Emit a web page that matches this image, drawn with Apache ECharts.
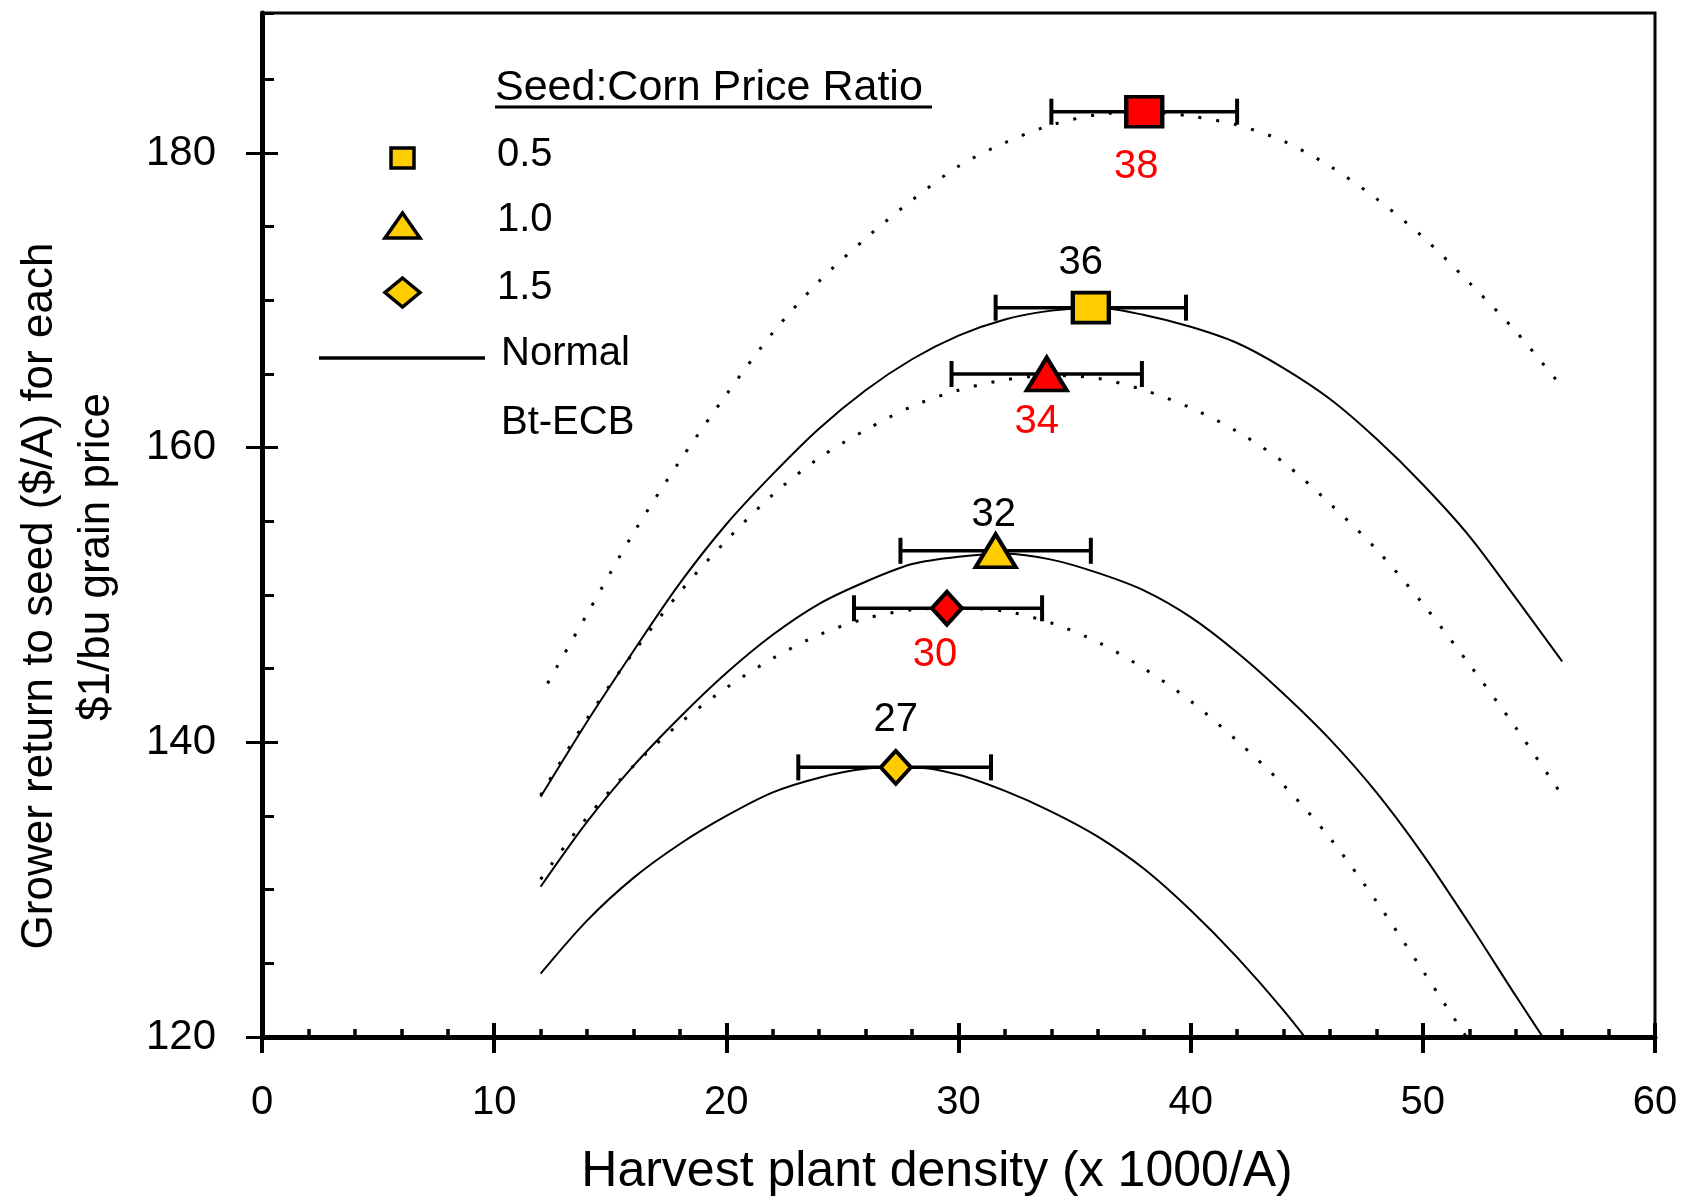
<!DOCTYPE html>
<html>
<head>
<meta charset="utf-8">
<script src="https://cdn.jsdelivr.net/npm/echarts@6/dist/echarts.min.js"></script>
<style>
  html, body { margin: 0; padding: 0; background: #fff; }
  #chart { width: 1691px; height: 1196px; }
</style>
</head>
<body>
<div id="chart"></div>
<script>
// response curves, [plant density (x1000/A), return ($/A)]
const normal05 = [[12,136.3],[14,141.4],[16,146.2],[18,150.8],[20,154.8],[22,158.2],[24,161.3],[26,163.9],[28,166.0],[30,167.6],[32,168.7],[34,169.3],[36,169.5],[38,169.0],[40,168.2],[42,167.1],[44,165.4],[46,163.3],[48,160.6],[50,157.5],[52,154.0],[54,149.8],[56,145.5]]
const normal10 = [[12,130.2],[14,134.6],[16,138.4],[18,141.7],[20,144.7],[22,147.3],[24,149.4],[26,150.9],[28,152.1],[30,152.6],[32,152.8],[34,152.4],[36,151.5],[38,150.3],[40,148.5],[42,146.1],[44,143.3],[46,140.2],[48,136.6],[50,132.4],[52,127.7],[54,122.8],[56,118.0]]
const normal15 = [[12,124.3],[14,127.9],[16,130.8],[18,133.1],[20,135.0],[22,136.6],[24,137.6],[26,138.2],[28,138.3],[30,137.8],[32,136.7],[34,135.3],[36,133.6],[38,131.4],[40,128.6],[42,125.4],[44,121.8],[46,117.8]]
const bt05 = [[12.3,144.0],[14,148.7],[16,154.2],[18,159.1],[20,163.6],[22,167.8],[24,171.3],[26,174.2],[28,176.8],[30,179.1],[32,180.7],[34,181.9],[36,182.6],[38,182.8],[40,182.5],[42,181.9],[44,180.8],[46,179.1],[48,176.9],[50,174.3],[52,171.2],[54,167.9],[56,164.1]]
const bt10 = [[12,136.4],[14,141.6],[16,146.1],[18,150.2],[20,153.7],[22,156.8],[24,159.3],[26,161.2],[28,162.8],[30,163.9],[32,164.6],[34,164.9],[36,164.7],[38,163.9],[40,162.7],[42,161.1],[44,159.0],[46,156.2],[48,153.1],[50,149.4],[52,145.3],[54,141.0],[56,136.4]]
const bt15 = [[12,130.7],[14,134.9],[16,138.4],[18,141.3],[20,143.7],[22,145.7],[24,147.3],[26,148.4],[28,149.0],[30,149.1],[32,148.9],[34,148.1],[36,146.8],[38,145.0],[40,142.8],[42,140.1],[44,137.1],[46,133.5],[48,129.2],[50,124.5],[52,119.7]]

// economic optimum for ratio 0.5, 1.0, 1.5
const ratios = ['0.5', '1.0', '1.5']
const normalOptX = [35.7, 31.6, 27.3]
const normalOptY = [169.5, 153.0, 138.3]
const normalLow = [31.6, 27.5, 23.1]
const normalHigh = [39.8, 35.7, 31.4]
const normalOptLabel = ['36', '32', '27']
const btOptX = [38.0, 33.8, 29.5]
const btOptY = [182.8, 165.0, 149.1]
const btLow = [34.0, 29.7, 25.5]
const btHigh = [42.0, 37.9, 33.6]
const btOptLabel = ['38', '34', '30']

const xTicks = [0, 10, 20, 30, 40, 50, 60]
const yTicks = [120, 140, 160, 180]

const YELLOW = '#FFCC00'
const RED = '#FF0000'
const FONT = '"Liberation Sans", Arial, sans-serif'
const NARROW = '"Liberation Sans Narrow", "Liberation Sans", sans-serif'

let myChart = echarts.init(document.getElementById('chart'))

function curve(pts, dotted) {
    return {
        type: 'line',
        data: pts,
        symbol: 'none',
        smooth: 0.3,
        silent: true,
        z: 2,
        lineStyle: {
            color: '#000',
            width: dotted ? 3 : 2,
            type: dotted ? [3, 15] : 'solid',
        },
    }
}

// horizontal error bars, drawn with the axes' own coord()
function errorBars(low, high, y) {
    return {
        type: 'custom',
        silent: true,
        z: 3,
        data: y.map((v, i) => [low[i], high[i], v]),
        encode: { x: [0, 1], y: 2 },
        renderItem(params, api) {
            let p1 = api.coord([api.value(0), api.value(2)])
            let p2 = api.coord([api.value(1), api.value(2)])
            let h = 13
            let s = { stroke: '#000', lineWidth: 4 }
            return {
                type: 'group',
                children: [
                    { type: 'line', shape: { x1: p1[0], y1: p1[1], x2: p2[0], y2: p2[1] }, style: { stroke: '#000', lineWidth: 3.5 } },
                    { type: 'line', shape: { x1: p1[0], y1: p1[1] - h, x2: p1[0], y2: p1[1] + h }, style: s },
                    { type: 'line', shape: { x1: p2[0], y1: p2[1] - h, x2: p2[0], y2: p2[1] + h }, style: s },
                ],
            }
        },
    }
}

const shapes = ['rect', 'triangle', 'diamond']
const shapeSize = [[36, 30], [40, 33], [30, 33]]
const normalLabelOffset = [[-10, -45], [-2, -36], [0, -47]]
const btLabelOffset = [[-8, 55], [-10, 48], [-12, 47]]

function markers(xs, ys, labels, color, offsets) {
    return ratios.map((r, i) => ({
        type: 'scatter',
        silent: true,
        z: 5,
        symbol: shapes[i],
        symbolSize: shapeSize[i],
        data: [[xs[i], ys[i]]],
        itemStyle: { color: color, borderColor: '#000', borderWidth: 4, opacity: 1 },
        label: {
            show: true,
            position: 'inside',
            offset: offsets[i],
            formatter: labels[i],
            color: color === RED ? RED : '#000',
            fontFamily: NARROW,
            fontSize: 40,
        },
    }))
}

let axisBase = { type: 'value', gridIndex: 0, splitLine: { show: false } }

let optionChart = {
    animation: false,
    backgroundColor: '#fff',
    grid: {
        left: 262, right: 36, top: 13, bottom: 159,
        show: true, borderColor: '#000', borderWidth: 3,
        containLabel: false,
    },
    xAxis: [
        {
            ...axisBase, min: 0, max: 60, interval: 10, position: 'bottom',
            axisLine: { show: true, lineStyle: { color: '#000', width: 5 } },
            axisTick: { show: true, inside: true, length: 14, lineStyle: { color: '#000', width: 4 } },
            minorTick: { show: true, splitNumber: 5, length: 8, lineStyle: { color: '#000', width: 3.5 } },
            axisLabel: {
                margin: 46, color: '#000', fontFamily: NARROW, fontSize: 40,
                formatter: (v) => xTicks.includes(v) ? String(v) : '',
            },
        },
        {
            ...axisBase, min: 0, max: 60, interval: 10, position: 'bottom', offset: 0,
            axisLine: { show: false },
            axisTick: { show: true, inside: false, length: 16, lineStyle: { color: '#000', width: 4 } },
            axisLabel: { show: false },
        },
    ],
    yAxis: [
        {
            ...axisBase, min: 120, max: 189.5, interval: 20, position: 'left', offset: 0,
            axisLine: { show: true, lineStyle: { color: '#000', width: 5 } },
            axisTick: { show: true, inside: true, length: 16, lineStyle: { color: '#000', width: 3 } },
            axisLabel: {
                margin: 46, color: '#000', fontFamily: FONT, fontSize: 42, showMaxLabel: false,
                formatter: (v) => yTicks.includes(v) ? String(v) : '',
            },
        },
        {
            ...axisBase, min: 120, max: 189.5, interval: 5, position: 'left', offset: 0,
            axisLine: { show: false },
            axisTick: { show: true, inside: true, length: 12, lineStyle: { color: '#000', width: 3 } },
            axisLabel: { show: false },
        },
        {
            ...axisBase, min: 120, max: 189.5, interval: 20, position: 'left', offset: 0,
            axisLine: { show: false },
            axisTick: { show: true, inside: false, length: 16, customValues: yTicks, lineStyle: { color: '#000', width: 3 } },
            axisLabel: { show: false },
        },
    ],
    series: [
        curve(normal05, false),
        curve(normal10, false),
        curve(normal15, false),
        curve(bt05, true),
        curve(bt10, true),
        curve(bt15, true),
        errorBars(normalLow, normalHigh, normalOptY),
        errorBars(btLow, btHigh, btOptY),
        ...markers(normalOptX, normalOptY, normalOptLabel, YELLOW, normalLabelOffset),
        ...markers(btOptX, btOptY, btOptLabel, RED, btLabelOffset),
    ],
    graphic: [
        // axis titles
        {
            type: 'text', x: 937, y: 1172,
            style: { text: 'Harvest plant density (x 1000/A)', fill: '#000', font: '50px ' + FONT, textAlign: 'center', textVerticalAlign: 'middle', align: 'center', verticalAlign: 'middle' },
        },
        {
            type: 'text', x: 40, y: 596, rotation: Math.PI / 2,
            style: { text: 'Grower return to seed ($/A) for each', fill: '#000', font: '44px ' + FONT, textAlign: 'center', textVerticalAlign: 'middle', align: 'center', verticalAlign: 'middle' },
        },
        {
            type: 'text', x: 97, y: 557, rotation: Math.PI / 2,
            style: { text: '$1/bu grain price', fill: '#000', font: '44px ' + FONT, textAlign: 'center', textVerticalAlign: 'middle', align: 'center', verticalAlign: 'middle' },
        },
        // legend
        {
            type: 'text', x: 495, y: 88,
            style: { text: 'Seed:Corn Price Ratio', fill: '#000', font: '43px ' + FONT, textAlign: 'left', textVerticalAlign: 'middle', align: 'left', verticalAlign: 'middle' },
        },
        { type: 'line', shape: { x1: 495, y1: 107, x2: 932, y2: 107 }, style: { stroke: '#000', lineWidth: 3 } },
        { type: 'rect', shape: { x: 391, y: 148, width: 23, height: 20 }, style: { fill: YELLOW, stroke: '#000', lineWidth: 3.5 } },
        { type: 'polygon', shape: { points: [[402.5, 213], [420, 238], [385, 238]] }, style: { fill: YELLOW, stroke: '#000', lineWidth: 3.5 } },
        { type: 'polygon', shape: { points: [[402.5, 278], [420, 292.5], [402.5, 307], [385, 292.5]] }, style: { fill: YELLOW, stroke: '#000', lineWidth: 3.5 } },
        { type: 'line', shape: { x1: 319, y1: 358, x2: 485, y2: 358 }, style: { stroke: '#000', lineWidth: 3.5 } },
        ...[['0.5', 155], ['1.0', 220], ['1.5', 288], ['Normal', 354], ['Bt-ECB', 423]].map(([t, y]) => ({
            type: 'text', x: t.length > 3 ? 501 : 497, y: y,
            style: { text: t, fill: '#000', font: '40px ' + FONT, textAlign: 'left', textVerticalAlign: 'middle', align: 'left', verticalAlign: 'middle' },
        })),
    ],
}

myChart.setOption(optionChart)
</script>
</body>
</html>
